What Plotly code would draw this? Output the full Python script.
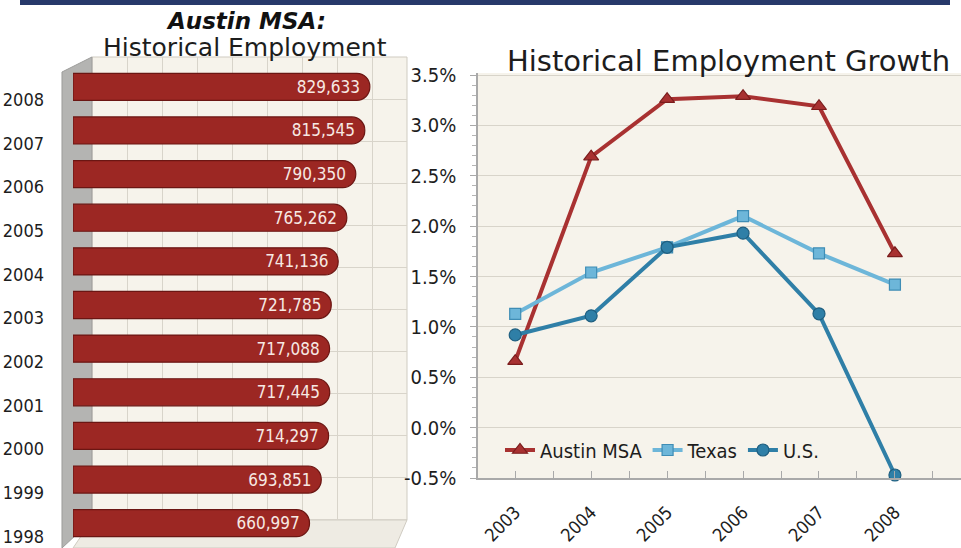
import plotly.graph_objects as go

W, H = 961, 548

# Austin MSA total employment, 1998-2008
EMP_YEARS = ["1998", "1999", "2000", "2001", "2002", "2003",
             "2004", "2005", "2006", "2007", "2008"]
EMP_VALUES = [660997, 693851, 714297, 717445, 717088, 721785,
              741136, 765262, 790350, 815545, 829633]

# annual employment growth, percent
GROWTH_YEARS = [2003, 2004, 2005, 2006, 2007, 2008]
AUSTIN = [0.66, 2.69, 3.26, 3.29, 3.19, 1.73]
TEXAS = [1.13, 1.54, 1.79, 2.10, 1.73, 1.42]
US = [0.92, 1.11, 1.79, 1.93, 1.13, -0.47]
GROWTH_TICKS = [-0.5, 0.0, 0.5, 1.0, 1.5, 2.0, 2.5, 3.0, 3.5]

NARROW = "DejaVu Sans Condensed, Liberation Sans Narrow, sans-serif"
WIDE = "DejaVu Sans, Verdana, sans-serif"
CREAM = "#f6f3eb"
GRID = "#d8d4ca"


def xd(left, right):
    return [left / W, right / W]


def yd(top, bottom):
    return [1 - bottom / H, 1 - top / H]


def px(x):
    return x / W


def py(y):
    return 1 - y / H


def poly(points):
    return "M " + " L ".join(f"{px(x):.4f},{py(y):.4f}" for x, y in points) + " Z"


fig = go.Figure()

# back wall grid of the 3D bar chart (empty trace just to create the subplot)
fig.add_trace(go.Scatter(x=[], y=[], xaxis="x", yaxis="y", showlegend=False, hoverinfo="skip"))

bar_pos = list(range(len(EMP_YEARS)))
fig.add_trace(go.Bar(
    x=EMP_VALUES,
    y=bar_pos,
    orientation="h",
    width=0.62,
    marker=dict(color="#9c2723", line=dict(color="#6b1613", width=1.2)),
    text=[f"{v:,}" for v in EMP_VALUES],
    textposition="inside",
    insidetextanchor="end",
    textfont=dict(family=NARROW, size=17, color="#f7e9e3"),
    xaxis="x2",
    yaxis="y2",
    showlegend=False,
    hoverinfo="skip",
))

series = [
    ("Austin MSA", AUSTIN, "#a83131", "triangle-up", "#7a1c1c", 13),
    ("Texas", TEXAS, "#6db6d9", "square", "#3f8db5", 11),
    ("U.S.", US, "#2f7fa7", "circle", "#1f5f80", 12),
]
for name, vals, color, symbol, edge, size in series:
    fig.add_trace(go.Scatter(
        x=GROWTH_YEARS,
        y=vals,
        name=name,
        mode="lines+markers",
        line=dict(color=color, width=4),
        marker=dict(symbol=symbol, size=size, color=color, line=dict(color=edge, width=1.2)),
        xaxis="x3",
        yaxis="y3",
        cliponaxis=False,
    ))

shapes = [
    # top frame rule
    dict(type="rect", xref="paper", yref="paper", x0=px(20), x1=px(950), y0=py(5), y1=py(-2),
         fillcolor="#27396a", line=dict(width=0), layer="below"),
    # back wall
    dict(type="rect", xref="paper", yref="paper", x0=px(92), x1=px(407), y0=py(520), y1=py(57),
         fillcolor=CREAM, line=dict(color="#cfcbc1", width=1), layer="below"),
    # floor
    dict(type="path", xref="paper", yref="paper",
         path=poly([(73, 548), (395, 548), (407, 520), (92, 520)]),
         fillcolor="#eeebe3", line=dict(color="#cfcbc1", width=1), layer="below"),
    # left wall
    dict(type="path", xref="paper", yref="paper",
         path=poly([(62, 72), (92, 57), (92, 520), (62, 548)]),
         fillcolor="#b4b4b2", line=dict(color="#9d9d9b", width=1), layer="below"),
    # growth chart background
    dict(type="rect", xref="paper", yref="paper", x0=px(478), x1=px(961), y0=py(478), y1=py(73),
         fillcolor=CREAM, line=dict(width=0), layer="below"),
]

annotations = [
    dict(text="<b><i>Austin MSA:</i></b>", x=px(246), y=py(21),
         font=dict(family=WIDE, size=23, color="#111111")),
    dict(text="Historical Employment", x=px(245), y=py(47),
         font=dict(family=WIDE, size=25, color="#1d1d1d")),
    dict(text="Historical Employment Growth", x=px(728), y=py(61),
         font=dict(family=WIDE, size=29, color="#1d1d1d")),
]
for a in annotations:
    a.update(xref="paper", yref="paper", xanchor="center", yanchor="middle", showarrow=False)

fig.update_layout(
    width=W,
    height=H,
    autosize=False,
    margin=dict(l=0, r=0, t=0, b=0, autoexpand=False),
    paper_bgcolor="white",
    plot_bgcolor="rgba(0,0,0,0)",
    barcornerradius=13,
    shapes=shapes,
    annotations=annotations,
    showlegend=True,
    legend=dict(
        orientation="h",
        x=px(500), y=py(450), xanchor="left", yanchor="middle",
        bgcolor="rgba(0,0,0,0)",
        font=dict(family=NARROW, size=20, color="#1d1d1d"),
        itemwidth=30,
        tracegroupgap=0,
    ),
    # back wall grid
    xaxis=dict(domain=xd(92, 407), range=[0, 900000], dtick=100000, showgrid=True,
               gridcolor=GRID, showticklabels=False, zeroline=False, ticks="", fixedrange=True),
    yaxis=dict(domain=yd(57, 520), range=[0, 11], dtick=1, showgrid=True,
               gridcolor=GRID, showticklabels=False, zeroline=False, ticks="", anchor="x"),
    # bars
    xaxis2=dict(domain=xd(73, 395), range=[0, 900000], showgrid=False, zeroline=False,
                showticklabels=False, ticks="", anchor="y2"),
    yaxis2=dict(domain=yd(65, 545), range=[-0.5, len(EMP_YEARS) - 0.5],
                tickvals=[p - 0.3 for p in bar_pos], ticktext=EMP_YEARS,
                showgrid=False, zeroline=False, ticks="", anchor="x2",
                ticklabelstandoff=28,
                tickfont=dict(family=NARROW, size=18, color="#1d1d1d")),
    # growth lines
    xaxis3=dict(domain=xd(478, 961), range=[2002.51, 2008.87], tickmode="array",
                tickvals=GROWTH_YEARS, ticktext=[str(y) for y in GROWTH_YEARS],
                tickangle=-45, showgrid=False, zeroline=False,
                showline=True, linecolor="#a9a9a9", linewidth=1.5,
                ticks="inside", ticklen=7, tickcolor="#a9a9a9",
                minor=dict(dtick=0.5, tick0=2002.5, ticks="inside", ticklen=7, tickcolor="#a9a9a9"),
                ticklabelstandoff=15,
                tickfont=dict(family=NARROW, size=18, color="#1d1d1d"),
                anchor="y3"),
    yaxis3=dict(domain=yd(73, 478), range=[-0.5, 3.52], tickmode="array",
                tickvals=GROWTH_TICKS, ticktext=[f"{t:.1f}%" for t in GROWTH_TICKS],
                showgrid=True, gridcolor=GRID, gridwidth=1.2, zeroline=False,
                showline=True, linecolor="#a9a9a9", linewidth=1.5,
                ticks="outside", ticklen=6, tickcolor="#a9a9a9",
                minor=dict(dtick=0.1, tick0=0, ticks="outside", ticklen=4, tickcolor="#b5b5b5"),
                ticklabelstandoff=10,
                tickfont=dict(family=NARROW, size=20, color="#1d1d1d"),
                anchor="x3"),
)

# the page body has a default 8px margin; drop it so the figure fills the window
fig.write_html("out.html", config={"displayModeBar": False},
               post_script="document.body.style.margin = '0';")
